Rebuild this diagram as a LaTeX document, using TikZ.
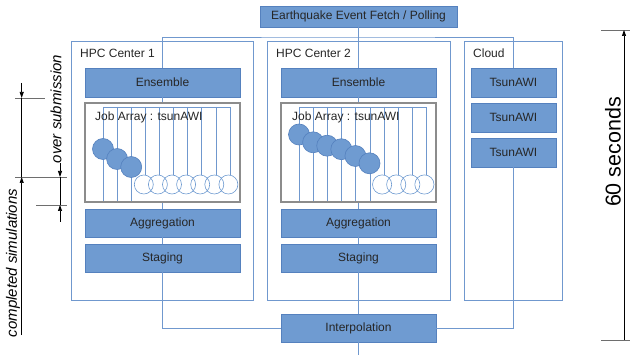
\documentclass[tikz,border=0pt]{standalone}
\usepackage{fontspec}
\setmainfont{Liberation Sans}
\usepackage{tikz}
\usetikzlibrary{arrows.meta}
\definecolor{boxblue}{RGB}{111,155,209}
\definecolor{boxedge}{RGB}{85,129,190}
\definecolor{linkblue}{RGB}{112,152,206}
\definecolor{framegray}{RGB}{140,140,140}
\definecolor{tickgray}{RGB}{110,110,110}
\tikzstyle{stage} = [draw=boxedge,fill=boxblue,line width=0.8pt,minimum width=155pt,minimum height=29pt,inner sep=0pt,text=black!85,font=\fontsize{12}{14}\selectfont]
\tikzstyle{site} = [draw=linkblue,line width=0.7pt,minimum height=259pt,inner sep=0pt]
\tikzstyle{title} = [anchor=west,inner sep=0pt,text=black!85,font=\fontsize{12}{14}\selectfont]
\tikzstyle{jobarray} = [draw=framegray,line width=1.6pt,minimum width=155pt,minimum height=99pt,inner sep=0pt]
\tikzstyle{link} = [linkblue,line width=0.7pt]
\tikzstyle{ball} = [boxblue,line width=0.6pt]
\tikzstyle{done} = [draw=boxedge,fill=boxblue,line width=0.6pt]
\tikzstyle{dim} = [black,line width=0.7pt,-{Triangle[length=6pt,width=4pt]}]
\tikzstyle{tick} = [tickgray,line width=0.8pt]

\begin{document}
\begin{tikzpicture}[x=1pt,y=-1pt]
	\useasboundingbox (0,0) rectangle (631,355);

	% Sites:
	\node[site,minimum width=182pt] (hpc1) at (162,170.5) {};
	\node[site,minimum width=183pt] (hpc2) at (358.5,170.5) {};
	\node[site,minimum width=98pt] (cloud) at (513,170.5) {};
	\node[title] (hpc1title) at (80,53) {HPC Center 1};
	\node[title] (hpc2title) at (276,53) {HPC Center 2};
	\node[title] (cloudtitle) at (473,53) {Cloud};

	% Stages:
	\node[stage,minimum width=197pt,minimum height=21pt] (fetch) at (358.5,16.5) {Earthquake Event Fetch / Polling};
	\node[stage] (ens1) at (162.5,82.5) {Ensemble};
	\node[stage] (ens2) at (358.5,82.5) {Ensemble};
	\node[stage,minimum height=28pt] (agg1) at (162.5,223) {Aggregation};
	\node[stage,minimum height=28pt] (agg2) at (358.5,223) {Aggregation};
	\node[stage,minimum height=28pt] (stg1) at (162.5,258) {Staging};
	\node[stage,minimum height=28pt] (stg2) at (358.5,258) {Staging};
	\node[stage,minimum width=85pt] (tsu1) at (513.5,82.5) {TsunAWI};
	\node[stage,minimum width=85pt] (tsu2) at (513.5,117.5) {TsunAWI};
	\node[stage,minimum width=85pt] (tsu3) at (513.5,152.5) {TsunAWI};
	\node[stage,minimum height=28pt] (interp) at (358.5,328) {Interpolation};

	% Links:
	\coordinate (bus) at (358.5,37);
	\coordinate (sink) at (358.5,355);
	\draw[link] (fetch) -- (ens2);
	\draw[link] (ens1.north) |- (bus) -| (tsu1.north);
	\draw[link] (ens1.south) -- (162.5,103);
	\draw[link] (ens2.south) -- (358.5,103);
	\draw[link] (162.5,202) -- (agg1) -- (stg1);
	\draw[link] (358.5,202) -- (agg2) -- (stg2);
	\draw[link] (stg1.south) |- (interp.west);
	\draw[link] (tsu3.south) |- (interp.east);
	\draw[link] (stg2) -- (interp) -- (sink);

	% Job array 1: three jobs done, seven waiting
	\draw[link,line width=0.6pt] (103,107) -- (229.9,107);
	\foreach \i in {0,1,2}{%
		\draw[link,line width=0.6pt] ({103+14.1*\i},107) -- ({103+14.1*\i},202);
	}
	\draw[link,line width=0.6pt] (103,202) -- (162.5,202);
	\foreach \i in {3,...,9}{%
		\draw[link,line width=0.6pt] ({103+14.1*\i},107) -- ({103+14.1*\i},175);
		\draw[ball] ({101.5+14.1*\i},184.5) circle (9.5pt);
	}
	\foreach \i/\y in {0/149,1/159,2/167}{%
		\draw[done] ({103+14.1*\i},\y) circle (10.5pt);
	}
	\node[title] (arr1title) at (95,117) {Job Array : tsunAWI};
	\node[jobarray] (arr1) at (162.5,152.5) {};

	% Job array 2: six jobs done, four waiting
	\draw[link,line width=0.6pt] (299.3,107) -- (426.2,107);
	\foreach \i in {0,...,5}{%
		\draw[link,line width=0.6pt] ({299.3+14.1*\i},107) -- ({299.3+14.1*\i},202);
	}
	\draw[link,line width=0.6pt] (299.3,202) -- (369.8,202);
	\foreach \i in {6,...,9}{%
		\draw[link,line width=0.6pt] ({299.3+14.1*\i},107) -- ({299.3+14.1*\i},175);
		\draw[ball] ({297.5+14.1*\i},184.5) circle (9.6pt);
	}
	\foreach \i/\y in {0/134.5,1/142.3,2/145.7,3/149.2,4/156,5/163.3}{%
		\draw[done] ({299+14.1*\i},\y) circle (10.5pt);
	}
	\node[title] (arr2title) at (292,117) {Job Array : tsunAWI};
	\node[jobarray] (arr2) at (358.5,152.5) {};

	% Time span on the right
	\draw[tick] (601,30) -- (630,30);
	\draw[tick] (601,340) -- (630,340);
	\draw[dim,{Triangle[length=6pt,width=4pt]}-] (624,30) -- (624,340);
	\node[rotate=90,inner sep=0pt,font=\fontsize{21.5}{24}\selectfont] (span) at (613,152) {60 seconds};

	% Spans on the left
	\draw[tick] (15,98) -- (45,98);
	\draw[tick] (15,177) -- (67,177);
	\draw[tick] (36,205) -- (67,205);
	\draw[black,line width=0.7pt] (21.7,98) -- (21.7,177);
	\draw[dim] (21.7,83) -- (21.7,98);
	\draw[dim] (21.7,335) -- (21.7,177);
	\draw[black,line width=0.7pt] (60,177) -- (60,205);
	\draw[dim] (60,163) -- (60,177);
	\draw[dim] (60,222) -- (60,205);
	\node[rotate=90,inner sep=0pt,font=\fontsize{15}{17}\selectfont\itshape] (oversub) at (56,109) {over submission};
	\node[rotate=90,inner sep=0pt,font=\fontsize{15}{17}\selectfont\itshape] (completed) at (13,263) {completed simulations};
\end{tikzpicture}
\end{document}
